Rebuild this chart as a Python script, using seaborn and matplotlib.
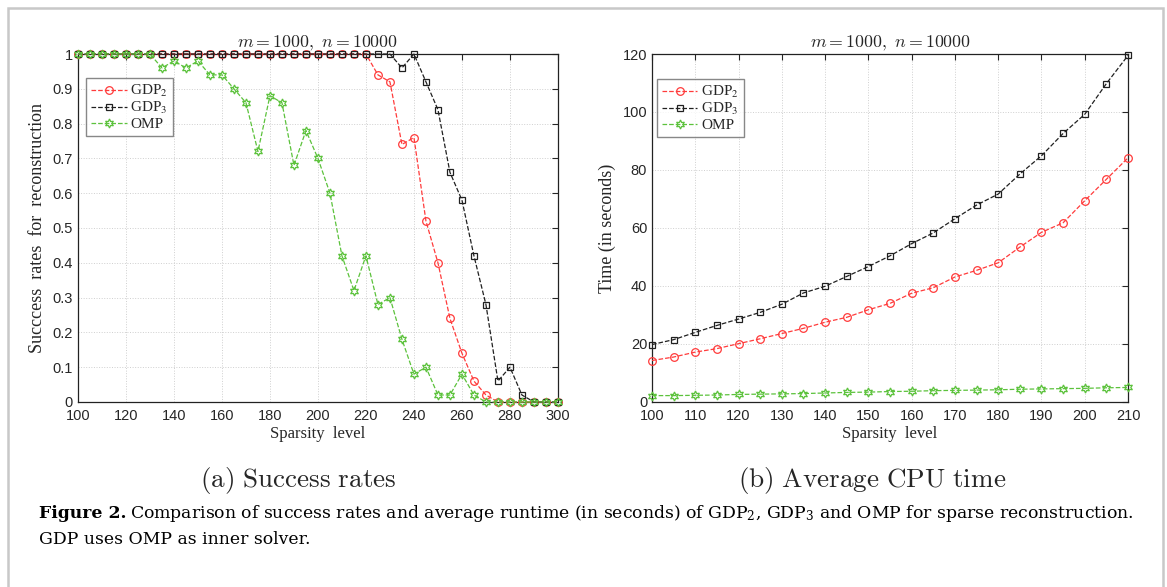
import seaborn as sns
import matplotlib.pyplot as plt
import numpy as np
import pandas as pd

sns.set_style('white')
plt.rcParams['font.family'] = ['Liberation Sans', 'DejaVu Sans']
plt.rcParams['mathtext.fontset'] = 'stix'
plt.rcParams['xtick.direction'] = 'in'
plt.rcParams['ytick.direction'] = 'in'

# (a) 성공률 데이터
k_rate = list(range(100, 301, 5))
gdp2_rate = [1] * 25 + [0.94, 0.92, 0.74, 0.76, 0.52, 0.40, 0.24, 0.14, 0.06, 0.02] + [0] * 6
gdp3_rate = [1] * 27 + [0.96, 1.0, 0.92, 0.84, 0.66, 0.58, 0.42, 0.28, 0.06, 0.10, 0.02, 0, 0, 0]
omp_rate = [1, 1, 1, 1, 1, 1, 1, 0.96, 0.98, 0.96, 0.98, 0.94, 0.94, 0.90, 0.86, 0.72,
            0.88, 0.86, 0.68, 0.78, 0.70, 0.60, 0.42, 0.32, 0.42, 0.28, 0.30, 0.18, 0.08,
            0.10, 0.02, 0.02, 0.08, 0.02, 0, 0, 0, 0, 0, 0, 0]

# (b) 평균 CPU 시간 데이터
k_time = list(range(100, 211, 5))
gdp2_time = [14.3, 15.5, 17.2, 18.4, 20.1, 21.8, 23.6, 25.4, 27.5, 29.2, 31.8, 34.0,
             37.5, 39.4, 43.1, 45.4, 48.0, 53.4, 58.5, 61.8, 69.4, 76.8, 84.2]
gdp3_time = [19.8, 21.5, 24.0, 26.4, 28.6, 30.9, 33.7, 37.6, 39.9, 43.3, 46.7, 50.4,
             54.6, 58.3, 63.2, 67.9, 71.7, 78.6, 84.9, 92.6, 99.2, 109.8, 119.5]
omp_time = [2.2, 2.2, 2.3, 2.4, 2.6, 2.7, 2.8, 2.9, 3.1, 3.3, 3.4, 3.6, 3.7, 3.9,
            4.0, 4.1, 4.2, 4.4, 4.5, 4.6, 4.7, 4.9, 5.0]

labels = ['GDP$_2$', 'GDP$_3$', 'OMP']
colors = ['#ff3b3b', '#202020', '#5cc23c']
markers = ['o', 's', (6, 1, 0)]
msizes = [5.5, 5, 6.5]

fig = plt.figure(figsize=(11.67, 5.87), dpi=100)
ax1 = fig.add_axes([0.0668, 0.3152, 0.4113, 0.5928])
ax2 = fig.add_axes([0.5587, 0.3152, 0.4079, 0.5928])

def draw(ax, x, series):
    for y, lab, c, m, ms in zip(series, labels, colors, markers, msizes):
        sns.lineplot(x=x, y=y, ax=ax, label=lab, color=c, marker=m, markersize=ms,
                     markerfacecolor='none', markeredgecolor=c, markeredgewidth=0.9,
                     linestyle='--', linewidth=0.9, dashes=(5, 3), clip_on=False, zorder=3)
    ax.grid(True, linestyle=':', color='#cfcfcf', linewidth=0.7)
    ax.tick_params(top=True, right=True, labelsize=10.5, colors='#262626', length=4, width=0.8)
    ax.tick_params(axis='x', pad=5)
    for s in ax.spines.values():
        s.set_color('#222222')
        s.set_linewidth(0.9)
    ax.set_title(r'$m = 1000,\ n = 10000$', math_fontfamily='cm', fontsize=12.8, pad=5)
    ax.set_xlabel('Sparsity  level', family='Liberation Serif', fontsize=12, labelpad=2)

draw(ax1, k_rate, [gdp2_rate, gdp3_rate, omp_rate])
ax1.set_xlim(100, 300)
ax1.set_ylim(0, 1)
ax1.set_xticks(range(100, 301, 20))
ax1.set_yticks(np.arange(0, 1.01, 0.1))
ax1.set_yticklabels(['0', '0.1', '0.2', '0.3', '0.4', '0.5', '0.6', '0.7', '0.8', '0.9', '1'])
ax1.set_ylabel('Succcess  rates  for  reconstruction', family='Liberation Serif', fontsize=13, labelpad=5)

draw(ax2, k_time, [gdp2_time, gdp3_time, omp_time])
ax2.set_xlim(100, 210)
ax2.set_ylim(0, 120)
ax2.set_xticks(range(100, 211, 10))
ax2.set_yticks(range(0, 121, 20))
ax2.set_ylabel('Time (in seconds)', family='Liberation Serif', fontsize=13, labelpad=5)

for ax, anchor in [(ax1, (0.017, 0.93)), (ax2, (0.0105, 0.927))]:
    leg = ax.legend(loc='upper left', bbox_to_anchor=anchor, fancybox=False, handlelength=2.35,
                    handletextpad=0.25, borderpad=0.3, labelspacing=0.08, borderaxespad=0,
                    prop={'family': 'Liberation Serif', 'size': 11})
    leg.get_frame().set_edgecolor('#6a6a6a')
    leg.get_frame().set_linewidth(1.0)

# 부제목
fig.text(298 / 1167, 1 - 481 / 587, r'$\mathrm{(a)\ Success\ rates}$', math_fontfamily='cm',
         fontsize=19.5, ha='center', va='center')
fig.text(872 / 1167, 1 - 481 / 587, r'$\mathrm{(b)\ Average\ CPU\ time}$', math_fontfamily='cm',
         fontsize=19.5, ha='center', va='center')

# 캡션
cap_font = 'DejaVu Serif'
t1 = fig.text(39 / 1167, 1 - 518 / 587, 'Figure 2.', family=cap_font, weight='bold',
              fontsize=12.4, va='baseline', color='black')
fig.canvas.draw()
bb = t1.get_window_extent(fig.canvas.get_renderer())
fig.text((bb.x1 + 4) / 1167, 1 - 518 / 587,
         'Comparison of success rates and average runtime (in seconds) of GDP$_2$, GDP$_3$ '
         'and OMP for sparse reconstruction.', family=cap_font, fontsize=12.4, va='baseline',
         math_fontfamily='dejavuserif', color='black')
fig.text(39 / 1167, 1 - 544 / 587, 'GDP uses OMP as inner solver.', family=cap_font,
         fontsize=12.4, va='baseline', color='black')

# 바깥 테두리
fig.patches.append(plt.Rectangle((8 / 1167, -0.05), 1155 / 1167, 1 - 8 / 587 + 0.05,
                                 transform=fig.transFigure, fill=False,
                                 edgecolor='#c8c8c8', linewidth=1.8))

fig.savefig('out.png', dpi=100)
